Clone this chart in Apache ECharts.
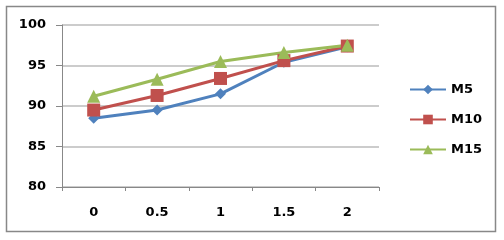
<!DOCTYPE html>
<html>
<head>
<meta charset="utf-8">
<script src="https://cdn.jsdelivr.net/npm/echarts@6/dist/echarts.min.js"></script>
<style>
  html, body { margin: 0; padding: 0; background: #fff; }
  #chart { width: 504px; height: 240px; }
</style>
</head>
<body>
<div id="chart"></div>
<script>
const categories = ["0", "0.5", "1", "1.5", "2"];
const m5 = [88.5, 89.5, 91.5, 95.4, 97.3];
const m10 = [89.5, 91.3, 93.4, 95.6, 97.4];
const m15 = [91.2, 93.3, 95.5, 96.6, 97.5];

const chart = echarts.init(document.getElementById("chart"));

const font = "DejaVu Sans";

function line(name, data, color, symbol, size) {
  return {
    name: name,
    type: "line",
    data: data,
    symbol: symbol,
    symbolSize: size,
    lineStyle: { color: color, width: 3 },
    itemStyle: { color: color },
    animation: false,
  };
}

const option = {
  animation: false,
  graphic: [
    {
      type: "rect",
      shape: { x: 6.5, y: 6.5, width: 489, height: 225 },
      style: { fill: "none", stroke: "#888", lineWidth: 1.5 },
    },
  ],
  grid: { left: 62, right: 125, top: 25, bottom: 53 },
  legend: {
    orient: "vertical",
    left: 404,
    top: 78,
    itemWidth: 36,
    itemHeight: 12,
    itemGap: 17,
    textStyle: { fontFamily: font, fontWeight: "bold", fontSize: 13, color: "#000" },
    data: ["M5", "M10", "M15"],
  },
  xAxis: {
    type: "category",
    data: categories,
    boundaryGap: true,
    axisLine: { lineStyle: { color: "#888", width: 1 } },
    axisTick: { show: true, length: 4, lineStyle: { color: "#888" } },
    axisLabel: { fontFamily: font, fontWeight: "bold", fontSize: 13, color: "#000", margin: 19 },
  },
  yAxis: {
    type: "value",
    min: 80,
    max: 100,
    interval: 5,
    axisLine: { show: true, lineStyle: { color: "#888" } },
    axisTick: { show: true, length: 6, lineStyle: { color: "#888" } },
    splitLine: { lineStyle: { color: "#bbb", width: 1.5 } },
    axisLabel: { fontFamily: font, fontWeight: "bold", fontSize: 13, color: "#000", margin: 16 },
  },
  series: [
    line("M5", m5, "#4F81BD", "diamond", 11),
    line("M10", m10, "#C0504D", "rect", 13),
    line("M15", m15, "#9BBB59", "triangle", 13),
  ],
};

chart.setOption(option);
</script>
</body>
</html>
